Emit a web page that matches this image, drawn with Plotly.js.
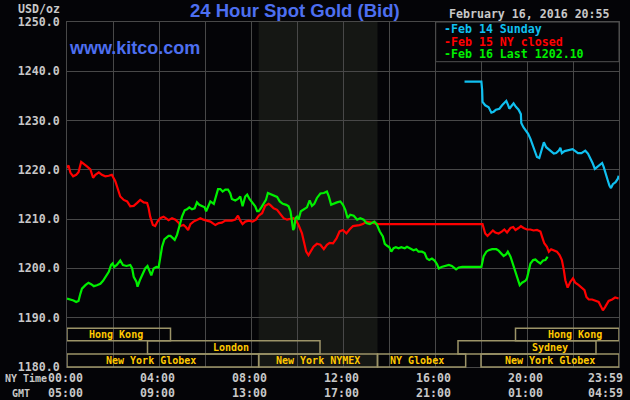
<!DOCTYPE html>
<html>
<head>
<meta charset="utf-8">
<script src="https://cdn.plot.ly/plotly-3.0.1.min.js"></script>
<style>
html,body{margin:0;padding:0;background:#040407;}
#chart{width:630px;height:400px;}
</style>
</head>
<body>
<div id="chart"></div>
<script>
// ---- Data (minutes after 00:00 NY time, price USD/oz) ----
const seriesNames = ['Feb 14 Sunday', 'Feb 15 NY closed', 'Feb 16 Last 1202.10'];

const cyanT = [1037,1081,1083,1084,1091,1100,1107,1113,1119,1128,1135,1142,1146,1151,1154,1159,1165,1171,1178,1184,1185,1191,1197,1203,1209,1215,1220,1226,1232,1238,1244,1250,1257,1264,1270,1276,1283,1287,1291,1298,1304,1313,1319,1326,1333,1342,1348,1352,1359,1365,1371,1377,1383,1389,1396,1400,1405,1411,1415,1419,1424,1431,1437,1439];
const cyanV = [1237.9,1237.9,1236.2,1233.8,1233.1,1232.7,1231.6,1231.8,1232.2,1232.4,1233.1,1233.6,1234.0,1233.1,1232.4,1232.9,1233.5,1232.8,1232.2,1231.3,1229.5,1228.6,1228.0,1227.3,1226.3,1224.9,1223.6,1222.6,1222.4,1223.9,1225.6,1224.6,1224.1,1223.8,1223.3,1223.4,1223.9,1224.5,1223.4,1223.8,1223.9,1224.2,1224.2,1223.8,1223.4,1223.4,1223.6,1223.9,1223.3,1222.4,1221.4,1220.2,1220.6,1220.9,1221.4,1220.6,1219.5,1217.8,1216.8,1216.3,1217.1,1217.5,1218.2,1218.8];

const redT = [0,4,9,16,24,30,37,43,52,61,68,74,83,91,100,109,117,126,132,139,148,157,165,174,183,191,200,209,213,217,224,230,236,243,252,259,265,274,283,291,296,304,310,316,322,330,339,348,356,365,374,387,396,404,413,422,430,439,446,452,458,465,474,484,493,500,509,517,526,530,539,548,557,565,574,583,591,598,604,613,617,624,630,637,643,652,661,670,678,685,694,703,711,720,729,737,746,763,772,781,791,804,813,1084,1091,1097,1104,1111,1117,1126,1135,1141,1148,1157,1164,1170,1178,1184,1191,1200,1209,1217,1226,1235,1239,1245,1252,1257,1263,1270,1278,1285,1291,1296,1300,1306,1313,1320,1326,1335,1343,1350,1355,1361,1370,1378,1387,1393,1398,1404,1413,1422,1430,1439];
const redV = [1220.4,1220.9,1219.4,1218.7,1219.0,1219.5,1221.6,1221.3,1220.7,1220.1,1218.4,1219.0,1219.5,1219.0,1218.7,1218.8,1219.0,1217.7,1216.3,1214.6,1213.9,1213.6,1212.6,1212.7,1213.3,1213.9,1213.4,1213.3,1212.2,1210.5,1208.8,1208.6,1209.5,1210.2,1210.5,1210.2,1209.8,1210.2,1209.9,1209.3,1208.6,1208.8,1208.4,1207.8,1209.0,1209.5,1209.9,1210.2,1209.9,1209.7,1209.5,1208.8,1209.2,1209.3,1209.7,1209.7,1209.7,1209.9,1210.7,1209.7,1209.0,1209.5,1209.7,1209.5,1209.9,1210.7,1211.2,1212.7,1213.1,1212.9,1212.2,1211.9,1211.1,1210.2,1209.9,1210.0,1210.2,1209.7,1208.8,1207.1,1205.8,1203.4,1202.7,1203.7,1204.4,1205.0,1204.8,1203.9,1204.8,1205.2,1205.1,1206.1,1207.5,1207.8,1207.1,1207.9,1208.6,1208.8,1209.0,1209.5,1209.3,1209.2,1209.0,1209.0,1207.1,1206.6,1207.1,1207.7,1207.3,1207.1,1207.5,1207.9,1207.3,1208.2,1208.4,1207.8,1208.2,1208.6,1208.2,1207.9,1207.9,1207.7,1207.8,1207.5,1206.5,1205.1,1204.4,1203.4,1203.9,1203.6,1203.4,1202.7,1201.7,1199.7,1197.6,1196.1,1197.3,1198.0,1197.1,1196.6,1196.1,1195.6,1194.2,1193.7,1193.7,1193.5,1193.2,1192.3,1191.5,1192.2,1193.4,1193.7,1194.1,1193.9];

const greenT = [0,9,17,24,30,35,39,48,56,63,70,78,87,94,100,109,115,119,123,130,139,146,155,165,170,174,181,184,190,196,204,210,216,220,226,233,239,243,248,254,259,265,270,276,281,287,293,300,307,313,319,326,333,339,345,352,359,363,370,374,383,389,394,400,406,413,420,426,430,439,446,452,458,465,470,476,483,487,491,496,500,507,513,519,524,530,539,548,555,563,572,578,583,587,590,593,596,600,604,610,617,626,633,639,645,652,661,670,678,683,689,696,704,713,720,726,732,739,748,757,765,774,781,790,796,802,809,816,824,829,835,841,846,852,858,865,872,881,887,896,904,911,917,926,933,939,945,952,959,965,970,977,987,996,1004,1015,1022,1031,1081,1084,1087,1094,1100,1109,1120,1126,1132,1139,1146,1150,1157,1164,1170,1176,1181,1187,1196,1200,1204,1209,1216,1222,1228,1235,1242,1248,1252,1255];
const greenV = [1193.9,1193.7,1193.5,1193.2,1193.4,1194.9,1195.9,1196.6,1197.1,1196.8,1196.4,1196.6,1196.9,1197.5,1198.3,1199.3,1200.7,1201.0,1200.3,1200.7,1201.6,1200.7,1200.5,1200.7,1200.0,1198.3,1197.3,1196.3,1197.6,1198.6,1200.0,1200.5,1199.5,1198.6,1200.0,1200.3,1200.2,1202.4,1204.4,1205.9,1206.3,1206.6,1206.6,1206.1,1205.8,1206.8,1208.5,1210.5,1211.8,1212.0,1212.4,1212.0,1212.2,1213.4,1212.9,1212.7,1212.4,1211.6,1213.1,1213.6,1213.1,1215.0,1216.1,1216.1,1215.6,1216.0,1216.0,1215.2,1214.1,1213.8,1214.1,1214.6,1212.6,1214.6,1215.0,1214.1,1213.3,1212.9,1212.6,1211.6,1211.6,1212.4,1213.1,1213.9,1215.3,1215.1,1214.8,1214.5,1213.6,1213.1,1212.9,1212.6,1211.6,1209.5,1207.8,1208.2,1210.2,1210.5,1209.9,1211.6,1212.0,1212.4,1213.8,1212.7,1213.1,1214.3,1215.2,1215.3,1215.6,1214.6,1212.9,1213.2,1213.4,1213.6,1212.9,1211.9,1210.2,1210.9,1210.7,1209.9,1210.2,1209.9,1209.2,1209.0,1209.2,1209.5,1208.8,1207.5,1206.5,1205.0,1204.6,1204.3,1203.4,1204.1,1204.3,1204.1,1204.3,1204.1,1204.4,1204.1,1203.7,1203.9,1203.4,1203.4,1203.1,1202.0,1201.7,1202.0,1201.6,1200.9,1200.0,1200.3,1200.5,1200.7,1200.5,1199.8,1200.2,1200.3,1200.3,1201.4,1202.5,1203.4,1203.7,1203.9,1203.9,1203.6,1203.1,1202.5,1202.9,1203.4,1202.4,1200.7,1199.0,1197.6,1196.6,1197.1,1197.5,1198.0,1199.7,1201.0,1201.7,1201.8,1201.4,1201.0,1201.6,1201.7,1202.2,1202.1];

// x tick labels
const tickMinutes = [0,240,480,720,960,1200,1439];
const nyLabels  = ['00:00','04:00','08:00','12:00','16:00','20:00','23:59'];
const gmtLabels = ['05:00','09:00','13:00','17:00','21:00','01:00','04:59'];

// market sessions (minutes NY time)
const sessionNames   = ['Hong Kong','London','New York Globex','New York NYMEX','NY Globex','New York Globex','Sydney','Hong Kong'];
const sessionStart   = [0,210,0,500,810,1080,1020,1170];
const sessionEnd     = [270,660,500,810,1040,1440,1380,1440];
const sessionRow     = [1,2,3,3,3,3,2,1];
const sessionLabelAt = [127,429,218,654,912,1259,1260,1324];

const nymexStart = 500, nymexEnd = 810;

// ---- Styling / layout ----
const W = 630, H = 400, ML = 67, MR = 11, MT = 22, MB = 33;
const PW = W - ML - MR, PH = H - MT - MB;
const px2x = p => (p - ML) / PW;
const py2y = p => (H - MB - p) / PH;

const colors = ['#10c0f0', '#ff0000', '#00f000'];
const mono = 'DejaVu Sans Mono';
const gray = '#c8c8c8';
const grid = '#484848';
const blue = '#4d6ff0';

const traces = [
  {x: cyanT, y: cyanV, name: seriesNames[0], mode: 'lines', line: {color: colors[0], width: 2.2}},
  {x: redT, y: redV, name: seriesNames[1], mode: 'lines', line: {color: colors[1], width: 2.2}},
  {x: greenT, y: greenV, name: seriesNames[2], mode: 'lines', line: {color: colors[2], width: 2.2}}
];

const rowBounds = {1: [340.7, 328.3], 2: [354, 340.7], 3: [367, 354]};

const shapes = [
  {type: 'rect', xref: 'x', yref: 'paper', x0: nymexStart, x1: nymexEnd, y0: 0, y1: 1,
   fillcolor: '#151714', line: {width: 0}, layer: 'below'},
  {type: 'rect', xref: 'paper', yref: 'paper', x0: px2x(435.7), x1: 1, y0: py2y(61.7), y1: 1,
   fillcolor: '#040407', line: {color: '#505050', width: 1}, layer: 'above'}
];
const annotations = [];

sessionNames.forEach((n, i) => {
  const rb = rowBounds[sessionRow[i]];
  shapes.push({type: 'rect', xref: 'x', yref: 'paper', x0: sessionStart[i], x1: sessionEnd[i],
    y0: py2y(rb[0]), y1: py2y(rb[1]), line: {color: '#9c9468', width: 1.5}, fillcolor: 'rgba(0,0,0,0)', layer: 'above'});
  annotations.push({xref: 'x', yref: 'paper', x: sessionLabelAt[i], y: py2y((rb[0] + rb[1]) / 2),
    text: n, showarrow: false, xanchor: 'center', yanchor: 'middle',
    font: {family: mono, size: 10, color: '#ffc800', weight: 'bold'}});
});

tickMinutes.forEach((m, i) => {
  const last = i === tickMinutes.length - 1;
  [[nyLabels[i], 378], [gmtLabels[i], 393]].forEach(([t, yy]) => {
    annotations.push({xref: 'x', yref: 'paper', x: last ? 1440 : m, y: py2y(yy), text: t,
      showarrow: false, xanchor: last ? 'right' : 'center', yanchor: 'middle', xshift: last ? 6 : -2,
      font: {family: mono, size: 11.6, color: gray, weight: 'bold'}});
  });
});

annotations.push(
  {xref: 'paper', yref: 'paper', x: px2x(3), y: py2y(378), text: 'NY Time', showarrow: false,
   xanchor: 'left', yanchor: 'middle', font: {family: mono, size: 10, color: gray, weight: 'bold'}},
  {xref: 'paper', yref: 'paper', x: px2x(20.5), y: py2y(393), text: 'GMT', showarrow: false,
   xanchor: 'center', yanchor: 'middle', font: {family: mono, size: 10, color: gray, weight: 'bold'}},
  {xref: 'paper', yref: 'paper', x: px2x(61.7), y: py2y(8.5), text: 'USD/oz', showarrow: false,
   xanchor: 'right', yanchor: 'middle', font: {family: mono, size: 11.6, color: gray, weight: 'bold'}},
  {xref: 'paper', yref: 'paper', x: px2x(447), y: py2y(14.5), text: 'February 16, 2016 20:55', showarrow: false,
   xanchor: 'left', yanchor: 'middle', font: {family: mono, size: 11.6, color: gray, weight: 'bold'}},
  {xref: 'paper', yref: 'paper', x: px2x(67), y: py2y(48.5), text: 'www.kitco.com', showarrow: false,
   xanchor: 'left', yanchor: 'middle', font: {family: 'Liberation Sans', size: 18, color: blue, weight: 'bold'}}
);

const legendY = [29.5, 41.5, 54];
seriesNames.forEach((n, i) => {
  annotations.push({xref: 'paper', yref: 'paper', x: px2x(441.5), y: py2y(legendY[i]), text: '-' + n,
    showarrow: false, xanchor: 'left', yanchor: 'middle',
    font: {family: mono, size: 11.6, color: colors[i], weight: 'bold'}});
});

const layout = {
  width: W, height: H,
  margin: {l: ML, r: MR, t: MT, b: MB, pad: 0},
  paper_bgcolor: '#040407', plot_bgcolor: '#040407',
  showlegend: false,
  title: {text: '24 Hour Spot Gold (Bid)', xref: 'container', yref: 'container', x: 190 / W, xanchor: 'left',
          y: 1 - 10.5 / H, yanchor: 'middle', font: {family: 'Liberation Sans', size: 18.5, color: blue, weight: 'bold'}},
  xaxis: {range: [0, 1440], tickmode: 'array', tickvals: [0,120,240,360,480,600,720,840,960,1080,1200,1320,1440],
          showticklabels: false, ticks: '', showgrid: true, gridcolor: grid, gridwidth: 1, zeroline: false,
          showline: true, linecolor: grid, linewidth: 1, mirror: true, fixedrange: true},
  yaxis: {range: [1180, 1250], dtick: 10, tick0: 1180, tickformat: '.1f', ticks: '', ticklabelstandoff: 4,
          showgrid: true, gridcolor: grid, gridwidth: 1, zeroline: false,
          showline: true, linecolor: grid, linewidth: 1, mirror: true,
          tickfont: {family: mono, size: 11.6, color: gray, weight: 'bold'}, fixedrange: true},
  shapes: shapes,
  annotations: annotations
};

Plotly.newPlot('chart', traces, layout, {displayModeBar: false, staticPlot: true});
</script>
</body>
</html>
